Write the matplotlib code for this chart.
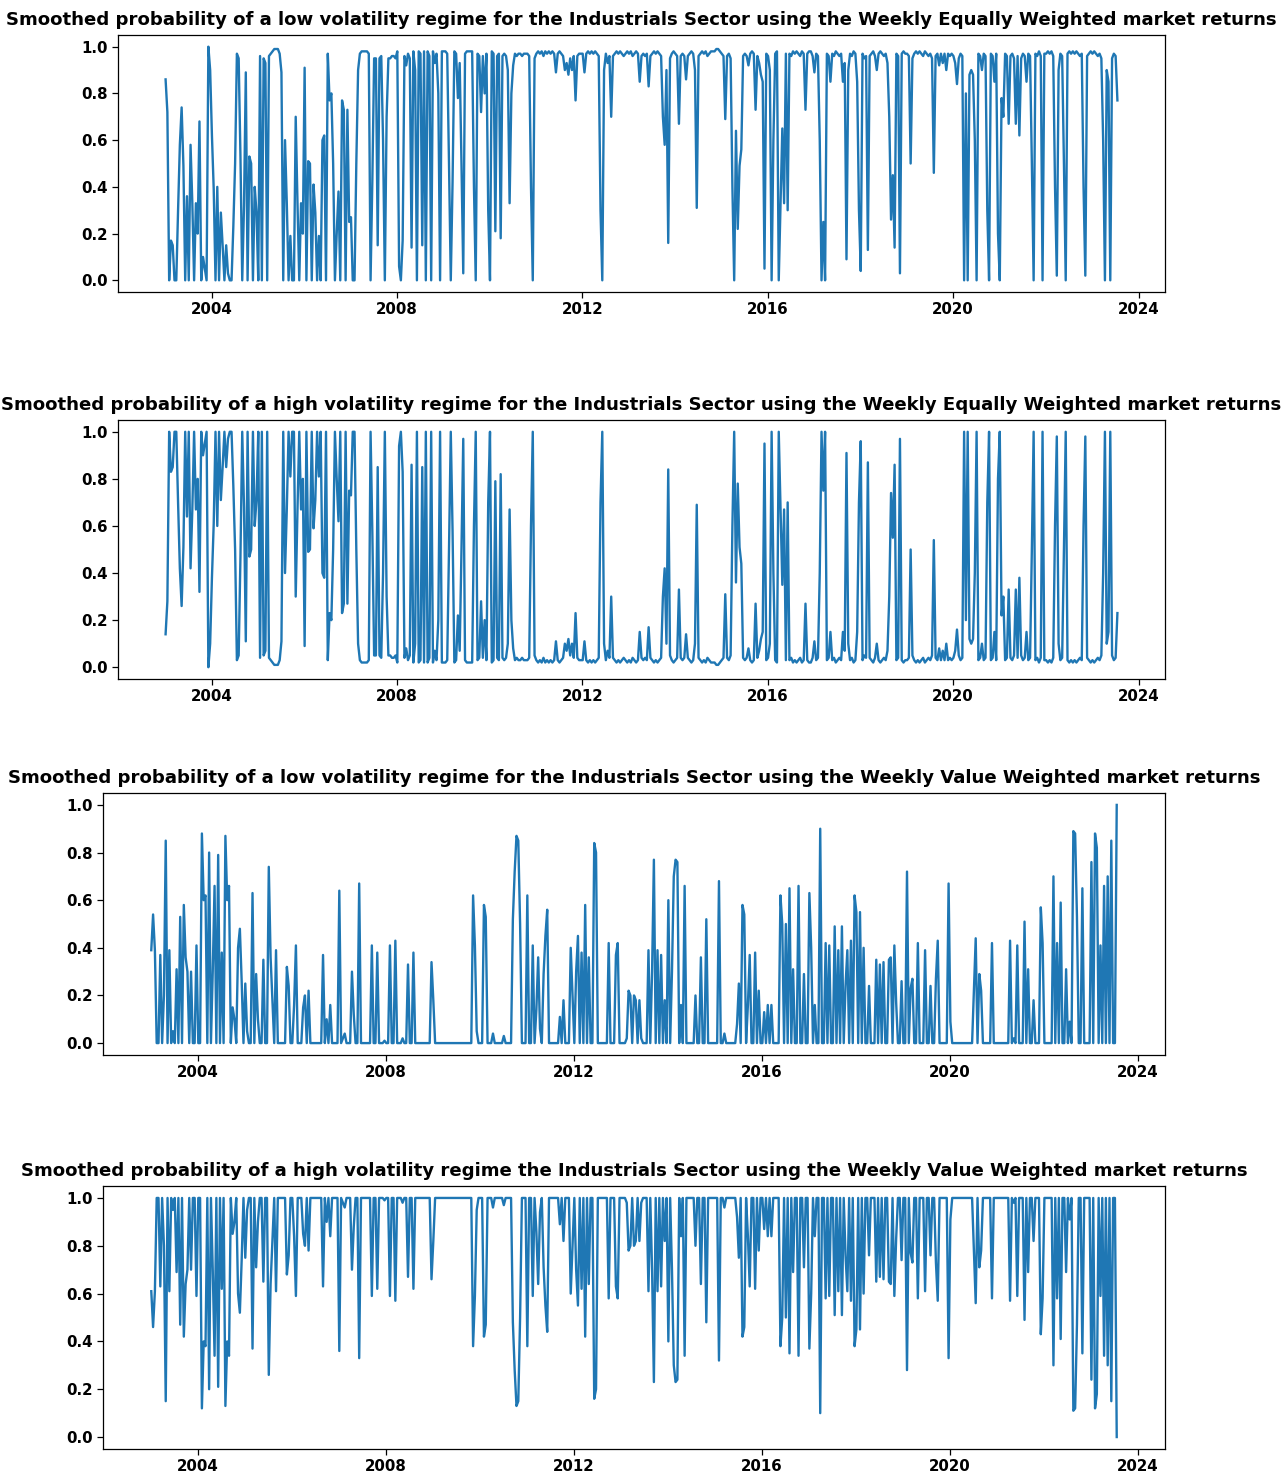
import matplotlib
matplotlib.use("Agg")
import matplotlib.pyplot as plt
import matplotlib.dates as mdates
import numpy as np
import pandas as pd

# Smoothed probability (in %) of the low volatility regime, one value every
# two weeks from January 2003. One line per year.
ew_low_pct = [
    86, 72, 0, 17, 15, 0, 0, 30, 58, 74, 49, 0, 36, 0, 58, 33, 0, 33, 20, 68, 0, 10, 5, 0, 100, 90,
    62, 39, 0, 40, 0, 29, 15, 0, 15, 3, 0, 0, 23, 50, 97, 95, 53, 0, 32, 89, 0, 53, 50, 0, 40, 29,
    0, 96, 0, 95, 93, 0, 96, 97, 98, 99, 99, 99, 97, 89, 0, 60, 33, 0, 19, 0, 0, 70, 33, 0, 33, 20,
    91, 0, 51, 50, 0, 41, 29, 0, 19, 0, 60, 62, 0, 97, 77, 80, 50, 0, 20, 38, 0, 77, 73, 0, 73, 25,
    27, 0, 0, 50, 90, 97, 98, 98, 98, 98, 97, 0, 43, 95, 95, 15, 95, 96, 60, 0, 70, 95, 95, 96, 96, 95,
    98, 6, 0, 17, 96, 92, 97, 95, 14, 98, 90, 0, 98, 97, 15, 98, 0, 98, 96, 0, 98, 93, 97, 80, 0, 98,
    98, 98, 97, 50, 0, 42, 98, 97, 78, 93, 50, 3, 97, 98, 98, 98, 98, 40, 0, 97, 96, 72, 96, 80, 97, 30,
    0, 98, 97, 21, 96, 97, 18, 96, 97, 96, 90, 33, 80, 92, 97, 96, 97, 97, 96, 97, 97, 97, 96, 40, 0, 95,
    97, 98, 97, 98, 96, 98, 97, 98, 97, 98, 97, 89, 97, 98, 97, 96, 90, 93, 88, 95, 90, 96, 77, 96, 97, 97,
    97, 89, 97, 98, 97, 98, 97, 98, 97, 96, 30, 0, 90, 97, 93, 96, 70, 96, 97, 98, 97, 98, 97, 96, 97, 98,
    97, 98, 96, 97, 98, 97, 85, 96, 97, 96, 97, 83, 96, 97, 98, 97, 98, 97, 96, 70, 58, 90, 16, 95, 97, 98,
    97, 96, 67, 96, 97, 96, 86, 96, 97, 98, 97, 90, 31, 96, 97, 98, 97, 98, 96, 97, 98, 98, 98, 99, 99, 98,
    97, 96, 69, 96, 97, 95, 40, 0, 64, 22, 49, 56, 96, 97, 96, 92, 97, 98, 97, 73, 96, 93, 88, 85, 5, 97,
    96, 90, 0, 60, 97, 98, 0, 33, 65, 33, 97, 30, 97, 96, 98, 97, 98, 97, 96, 98, 97, 73, 97, 98, 98, 96,
    89, 97, 96, 60, 0, 25, 0, 97, 96, 85, 97, 96, 98, 97, 96, 97, 85, 93, 9, 90, 97, 96, 98, 97, 85, 30,
    4, 97, 95, 96, 13, 96, 97, 98, 96, 90, 97, 98, 97, 96, 97, 93, 70, 26, 45, 14, 97, 96, 3, 97, 98, 97,
    97, 96, 50, 95, 97, 98, 97, 98, 97, 96, 98, 97, 96, 97, 95, 46, 96, 97, 92, 97, 93, 97, 90, 97, 96, 97,
    96, 93, 84, 95, 97, 96, 0, 80, 0, 88, 90, 88, 60, 0, 97, 96, 90, 97, 96, 30, 0, 97, 96, 85, 97, 20,
    0, 78, 70, 97, 96, 67, 96, 97, 95, 67, 96, 62, 95, 97, 96, 85, 97, 96, 50, 0, 97, 96, 98, 96, 0, 97,
    97, 98, 97, 98, 96, 40, 2, 90, 97, 96, 50, 0, 97, 98, 97, 98, 97, 98, 97, 96, 97, 40, 2, 96, 97, 98,
    97, 98, 97, 96, 97, 95, 60, 0, 90, 85, 0, 95, 97, 96, 77,
]

vw_low_pct = [
    39, 54, 39, 0, 0, 37, 0, 20, 85, 0, 39, 0, 5, 0, 31, 0, 53, 0, 58, 36, 30, 0, 30, 0, 0, 41,
    0, 0, 88, 60, 62, 0, 80, 0, 30, 66, 0, 79, 0, 38, 0, 87, 60, 66, 0, 15, 10, 0, 40, 48, 26, 0,
    25, 5, 0, 0, 63, 0, 29, 10, 0, 0, 35, 0, 0, 74, 36, 18, 0, 39, 0, 0, 0, 0, 0, 32, 24, 0,
    0, 16, 41, 0, 0, 0, 15, 20, 0, 22, 0, 0, 0, 0, 0, 0, 0, 37, 0, 10, 0, 16, 0, 0, 0, 0,
    64, 0, 2, 4, 0, 0, 0, 30, 12, 0, 0, 67, 0, 0, 0, 0, 0, 0, 41, 0, 0, 38, 0, 0, 0, 1,
    0, 0, 41, 0, 0, 43, 0, 0, 0, 2, 0, 0, 33, 0, 0, 38, 0, 0, 0, 0, 0, 0, 0, 0, 0, 34,
    18, 0, 0, 0, 0, 0, 0, 0, 0, 0, 0, 0, 0, 0, 0, 0, 0, 0, 0, 0, 0, 0, 62, 41, 5, 0,
    0, 0, 58, 53, 0, 0, 0, 4, 0, 0, 0, 0, 0, 3, 0, 0, 0, 0, 52, 72, 87, 85, 50, 0, 0, 0,
    62, 0, 0, 41, 0, 14, 36, 6, 0, 29, 45, 56, 0, 0, 0, 0, 0, 0, 11, 0, 18, 0, 0, 0, 40, 20,
    0, 30, 45, 0, 38, 0, 58, 0, 36, 0, 0, 84, 80, 0, 0, 0, 0, 0, 0, 42, 0, 0, 0, 37, 42, 0,
    0, 0, 0, 2, 22, 20, 0, 20, 18, 0, 18, 2, 0, 0, 0, 39, 0, 30, 77, 0, 39, 0, 37, 0, 18, 0,
    60, 0, 30, 70, 77, 76, 0, 16, 0, 66, 0, 0, 0, 0, 0, 20, 0, 0, 36, 0, 0, 52, 0, 0, 0, 0,
    0, 0, 68, 0, 0, 4, 0, 0, 0, 0, 0, 0, 8, 25, 0, 58, 54, 0, 16, 37, 0, 0, 38, 0, 22, 0,
    0, 13, 0, 16, 0, 16, 0, 0, 0, 0, 62, 50, 0, 50, 0, 65, 0, 31, 0, 0, 66, 0, 0, 29, 0, 0,
    63, 40, 0, 16, 0, 0, 90, 0, 0, 42, 0, 41, 0, 0, 49, 0, 39, 0, 49, 0, 24, 39, 0, 43, 0, 62,
    55, 0, 55, 0, 40, 0, 0, 24, 0, 0, 0, 35, 0, 33, 0, 34, 0, 0, 35, 36, 0, 41, 17, 0, 0, 26,
    0, 0, 72, 0, 23, 27, 0, 0, 42, 0, 0, 0, 39, 0, 0, 24, 0, 0, 27, 43, 0, 0, 0, 0, 0, 67,
    9, 0, 0, 0, 0, 0, 0, 0, 0, 0, 0, 0, 0, 22, 44, 0, 29, 22, 0, 0, 0, 0, 0, 42, 0, 0,
    0, 0, 0, 0, 0, 0, 0, 43, 0, 2, 0, 41, 0, 0, 0, 51, 0, 31, 0, 0, 18, 0, 0, 0, 57, 42,
    0, 0, 0, 0, 0, 70, 0, 42, 0, 59, 0, 0, 31, 0, 9, 0, 89, 88, 53, 0, 0, 65, 0, 0, 0, 0,
    76, 0, 88, 82, 0, 41, 0, 66, 0, 70, 0, 85, 0, 0, 100,
]

titles = [
    "Smoothed probability of a low volatility regime for the Industrials Sector using the Weekly Equally Weighted market returns",
    "Smoothed probability of a high volatility regime for the Industrials Sector using the Weekly Equally Weighted market returns",
    "Smoothed probability of a low volatility regime for the Industrials Sector using the Weekly Value Weighted market returns",
    "Smoothed probability of a high volatility regime the Industrials Sector using the Weekly Value Weighted market returns",
]


def biweekly_dates(n):
    start = pd.Timestamp("2003-01-03")
    return start + pd.to_timedelta(np.arange(n) * 365.25 / 26, unit="D")


def main() -> None:
    ew_low = np.array(ew_low_pct) / 100
    vw_low = np.array(vw_low_pct) / 100
    # two-regime model: high volatility probability is the complement
    series = [ew_low, 1 - ew_low, vw_low, 1 - vw_low]

    W, H = 1288, 1479
    fig = plt.figure(figsize=(W / 100, H / 100), dpi=100)

    # axes boxes in pixels: left, top, right, bottom
    boxes = [(118, 35, 1165, 292), (118, 420, 1165, 679),
             (103, 793, 1165, 1055), (103, 1186, 1165, 1449)]

    for (l, t, r, b), y, title in zip(boxes, series, titles):
        ax = fig.add_axes([l / W, 1 - b / H, (r - l) / W, (b - t) / H])
        ax.plot(biweekly_dates(len(y)), y, color="#1f77b4", linewidth=1.7)
        ax.set_title(title, fontsize=13.1, fontweight="bold", pad=7)
        ax.xaxis.set_major_locator(mdates.YearLocator(4))
        ax.xaxis.set_major_formatter(mdates.DateFormatter("%Y"))
        ax.tick_params(labelsize=10.8, length=4, width=0.9)
        for lab in ax.get_xticklabels() + ax.get_yticklabels():
            lab.set_fontweight("bold")
        for s in ax.spines.values():
            s.set_linewidth(0.9)

    fig.savefig("out.png", dpi=100)


if __name__ == "__main__":
    main()
